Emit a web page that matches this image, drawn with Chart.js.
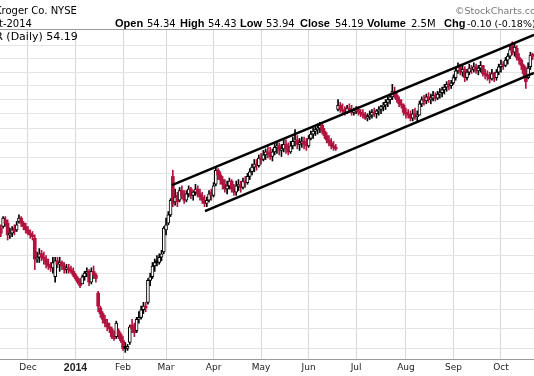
<!DOCTYPE html>
<html>
<head>
<meta charset="utf-8">
<script src="https://cdn.jsdelivr.net/npm/chart.js@4.4.1/dist/chart.umd.min.js"></script>
<style>
  html, body { margin: 0; padding: 0; background: #fff; }
  #wrap { position: relative; width: 534px; height: 376px; overflow: hidden; }
  #chart { position: absolute; left: 0; top: 0; }
  .t { position: absolute; white-space: nowrap; line-height: 1; font-family: "DejaVu Sans", sans-serif; font-size: 10px; color: #000; }
  .b { font-family: "Liberation Sans", Arial, sans-serif; font-weight: bold; font-size: 11px; }
  .logo { color: #777; font-size: 9.5px; }
</style>
</head>
<body>
<div id="wrap">
  <canvas id="chart" width="534" height="376"></canvas>
  <div class="t" style="left:-5px;top:5.5px">Kroger Co. NYSE</div>
  <div class="t" style="left:-31px;top:18.5px">20-Oct-2014</div>
  <div class="t" style="left:-12px;top:31px;font-size:11px">KR (Daily) 54.19</div>
  <div class="t logo" style="left:455px;top:6px">&copy;StockCharts.com</div>
  <div class="t b" style="left:115px;top:18px">Open</div>
  <div class="t" style="left:147px;top:18.5px">54.34</div>
  <div class="t b" style="left:180px;top:18px">High</div>
  <div class="t" style="left:208px;top:18.5px">54.43</div>
  <div class="t b" style="left:240px;top:18px">Low</div>
  <div class="t" style="left:266px;top:18.5px">53.94</div>
  <div class="t b" style="left:300px;top:18px">Close</div>
  <div class="t" style="left:335px;top:18.5px">54.19</div>
  <div class="t b" style="left:367px;top:18px">Volume</div>
  <div class="t" style="left:411px;top:18.5px">2.5M</div>
  <div class="t b" style="left:444px;top:18px">Chg</div>
  <div class="t" style="left:467px;top:19px;font-size:9.5px">-0.10 (-0.18%)</div>
</div>
<script>
// daily bars, 14-Nov-2013 .. 21-Oct-2014 (one entry per trading day)
const highs = [
  42.8, 43.3, 43.3, 43.1, 42.6, 42.7, 42.8, 43.0, 43.4, 43.3, 43.0, 42.9,
  42.7, 42.5, 42.4, 42.2, 41.2, 41.4, 41.3, 41.2, 41.0, 40.8, 40.6, 40.9, 40.9, 40.9,
  40.9, 40.7, 40.6, 40.5, 40.5, 40.4, 40.3,
  40.0, 39.8, 39.7, 39.9, 40.1, 40.3, 40.2, 40.3, 40.4, 40.0, 39.0, 38.2, 37.9, 37.7,
  37.5, 37.3, 37.1, 36.9, 37.4, 37.0, 36.8,
  36.6, 36.3, 36.2, 37.2, 37.5, 37.3, 37.6, 37.9, 38.2, 38.4, 38.4, 39.7, 40.0, 40.6,
  40.8, 41.0, 41.1, 41.3, 42.7,
  43.2, 43.6, 44.4, 46.2, 45.0, 44.8, 45.1, 45.2, 44.9, 44.9, 45.2, 45.1, 44.9, 45.3,
  45.2, 45.0, 44.8, 44.6, 44.5, 44.9, 45.0,
  45.4, 46.4, 46.3, 46.1, 45.8, 45.6, 45.5, 45.7, 45.6, 45.3, 45.5, 45.6, 45.5, 45.7,
  45.8, 46.0, 46.3, 46.6, 46.9, 46.9, 47.2,
  47.3, 47.5, 47.6, 47.8, 47.7, 47.6, 48.0, 48.1, 48.0, 47.9, 48.2, 48.2, 48.0, 48.1,
  48.4, 48.9, 48.5, 48.3, 48.4, 48.4, 48.3,
  48.5, 48.8, 49.0, 49.1, 49.3, 49.4, 49.3, 49.0, 48.7, 48.5, 48.3, 48.1, 47.9, 51.0,
  50.8, 50.7, 50.5, 50.6, 50.7, 50.6, 50.4,
  50.5, 50.5, 50.3, 50.3, 50.1, 50.0, 50.2, 50.3, 50.4, 50.3, 50.5, 50.6, 50.8, 51.0,
  51.2, 51.4, 52.1, 51.9, 51.5, 51.2, 51.0, 50.7,
  50.4, 50.3, 50.2, 50.3, 50.4, 50.2, 50.9, 51.2, 51.3, 51.4, 51.5, 51.4, 51.6, 51.5,
  51.6, 51.8, 51.9, 52.1, 52.3, 52.4, 52.4,
  52.8, 53.3, 53.7, 53.6, 53.5, 53.4, 53.2, 53.6, 53.5, 53.7, 53.6, 53.5, 53.8, 53.5,
  53.2, 53.1, 53.0, 53.2, 53.0, 53.2, 53.6,
  53.9, 53.8, 54.1, 54.4, 55.0, 55.3, 55.2, 55.0, 54.4, 54.0, 53.6, 53.4, 53.7, 54.5,
  54.43
];
const lows = [
  42.1, 42.6, 42.7, 41.9, 42.0, 42.1, 42.2, 42.4, 42.9, 42.7, 42.5, 42.3,
  42.2, 42.0, 41.9, 40.2, 40.6, 40.6, 40.7, 40.5, 40.3, 40.2, 40.1, 40.0, 39.5, 40.3,
  40.1, 40.2, 40.0, 40.0, 40.0, 40.0, 39.8,
  39.6, 39.4, 39.2, 39.4, 39.6, 39.8, 39.3, 39.4, 39.7, 39.5, 37.9, 37.6, 37.3, 37.1,
  36.9, 36.8, 36.5, 36.4, 36.5, 36.5, 36.3,
  35.9, 35.8, 35.9, 36.2, 36.8, 36.6, 36.8, 37.3, 37.5, 37.8, 37.9, 38.3, 39.3, 39.7,
  40.1, 40.4, 40.5, 40.7, 41.1,
  42.2, 42.8, 43.3, 43.9, 44.0, 43.9, 44.2, 44.4, 44.1, 44.2, 44.5, 44.4, 44.3, 44.6,
  44.5, 44.3, 44.1, 43.9, 43.9, 44.2, 44.3,
  44.5, 45.2, 45.6, 45.3, 45.0, 44.8, 44.7, 45.0, 44.8, 44.6, 44.6, 44.9, 44.8, 45.0,
  45.1, 45.3, 45.6, 45.9, 46.1, 46.2, 46.4,
  46.6, 46.8, 46.9, 47.0, 46.9, 46.8, 47.2, 47.3, 47.2, 47.1, 47.4, 47.3, 47.2, 47.3,
  47.6, 47.8, 47.6, 47.5, 47.7, 47.6, 47.5,
  47.7, 48.2, 48.3, 48.5, 48.6, 48.7, 48.6, 48.3, 48.0, 47.8, 47.6, 47.5, 47.5, 50.2,
  50.1, 50.0, 49.9, 50.0, 50.1, 49.9, 49.9,
  50.0, 49.9, 49.8, 49.7, 49.6, 49.5, 49.6, 49.7, 49.8, 49.7, 49.9, 50.0, 50.2, 50.3,
  50.5, 50.7, 51.0, 51.1, 50.8, 50.5, 50.4, 49.9,
  49.7, 49.7, 49.5, 49.5, 49.6, 49.5, 49.9, 50.5, 50.6, 50.7, 50.8, 50.7, 50.9, 50.9,
  51.0, 51.1, 51.2, 51.4, 51.6, 51.7, 51.8,
  52.1, 52.4, 52.9, 52.8, 52.7, 52.3, 52.4, 52.8, 52.9, 53.0, 52.9, 52.8, 53.0, 52.7,
  52.5, 52.4, 52.2, 52.4, 52.3, 52.4, 52.8,
  53.0, 53.2, 53.4, 53.6, 54.0, 54.3, 54.2, 53.9, 53.6, 53.2, 52.6, 51.8, 52.5, 53.2,
  53.94
];
const opens = [
  42.6, 42.7, 43.1, 42.9, 42.2, 42.3, 42.6, 42.5, 43.0, 43.2, 42.9, 42.7,
  42.5, 42.3, 42.2, 42.0, 40.8, 40.9, 41.1, 40.9, 40.8, 40.5, 40.4, 40.3, 39.8, 40.7,
  40.5, 40.6, 40.4, 40.2, 40.3, 40.2, 40.1,
  39.9, 39.7, 39.5, 39.4, 39.8, 40.0, 40.1, 39.5, 40.1, 39.9, 38.9, 38.1, 37.8, 37.5,
  37.3, 37.1, 37.0, 36.6, 36.6, 36.9, 36.7,
  36.4, 36.1, 36.0, 36.3, 37.2, 37.0, 36.9, 37.5, 37.6, 38.0, 38.2, 38.4, 39.6, 39.8,
  40.4, 40.7, 40.6, 40.9, 41.2,
  42.5, 42.9, 43.4, 45.8, 44.2, 44.6, 44.3, 44.9, 44.6, 44.3, 44.7, 45.0, 44.6, 44.8,
  45.0, 44.7, 44.5, 44.3, 44.1, 44.3, 44.8,
  44.6, 45.3, 46.2, 45.9, 45.6, 45.3, 45.0, 45.2, 45.5, 45.0, 44.8, 45.2, 45.3, 45.1,
  45.5, 45.4, 45.8, 46.1, 46.4, 46.6, 46.5,
  47.0, 46.9, 47.2, 47.4, 47.3, 47.1, 47.4, 47.7, 47.8, 47.5, 47.6, 47.9, 47.6, 47.4,
  47.8, 48.1, 48.2, 47.9, 48.0, 48.1, 47.9,
  47.8, 48.3, 48.6, 48.8, 48.9, 49.0, 49.2, 48.8, 48.5, 48.2, 48.0, 47.8, 47.7, 50.3,
  50.6, 50.3, 50.2, 50.1, 50.4, 50.3, 50.1,
  50.2, 50.3, 50.1, 50.0, 49.9, 49.7, 49.8, 49.9, 50.1, 50.0, 50.2, 50.3, 50.5, 50.6,
  50.8, 51.0, 51.2, 51.6, 51.3, 51.0, 50.7, 50.6,
  50.1, 50.0, 49.9, 49.7, 50.0, 49.8, 49.9, 50.7, 51.0, 50.9, 51.2, 51.0, 51.1, 51.3,
  51.1, 51.4, 51.5, 51.7, 51.9, 52.1, 52.0,
  52.2, 52.6, 53.1, 53.4, 53.0, 53.2, 52.6, 53.0, 53.3, 53.2, 53.4, 53.1, 53.3, 53.5,
  52.9, 52.8, 52.7, 52.5, 52.9, 52.6, 53.0,
  53.4, 53.6, 53.5, 53.9, 54.2, 55.0, 54.5, 54.8, 54.1, 53.9, 53.5, 52.9, 52.6, 53.4,
  54.34
];
const closes = [
  42.3, 43.2, 42.9, 42.2, 42.3, 42.5, 42.4, 42.8, 43.2, 42.9, 42.7, 42.5,
  42.3, 42.2, 42.1, 40.8, 40.9, 41.1, 40.9, 40.8, 40.5, 40.4, 40.3, 40.6, 40.7, 40.5,
  40.6, 40.4, 40.2, 40.3, 40.2, 40.1, 39.9,
  39.7, 39.5, 39.3, 39.8, 40.0, 40.1, 39.5, 40.1, 39.9, 39.7, 38.2, 37.8, 37.5, 37.3,
  37.1, 37.0, 36.6, 36.5, 37.3, 36.7, 36.4,
  36.0, 36.0, 36.1, 37.1, 37.0, 36.8, 37.5, 37.6, 38.0, 38.2, 38.1, 39.6, 39.8, 40.4,
  40.6, 40.6, 40.9, 41.1, 42.6,
  42.8, 43.4, 44.3, 44.1, 44.5, 44.2, 44.9, 44.6, 44.3, 44.7, 45.0, 44.6, 44.8, 45.0,
  44.7, 44.5, 44.3, 44.1, 44.3, 44.7, 44.6,
  45.2, 46.2, 45.9, 45.6, 45.3, 45.0, 45.2, 45.5, 45.0, 44.8, 45.2, 45.3, 45.1, 45.5,
  45.4, 45.8, 46.1, 46.4, 46.6, 46.5, 47.0,
  46.9, 47.2, 47.4, 47.3, 47.1, 47.4, 47.7, 47.8, 47.5, 47.6, 47.9, 47.6, 47.4, 47.8,
  48.1, 48.2, 47.9, 48.0, 48.1, 47.9, 47.8,
  48.3, 48.6, 48.8, 48.9, 49.0, 49.2, 48.8, 48.5, 48.2, 48.0, 47.8, 47.7, 47.6, 50.6,
  50.3, 50.2, 50.1, 50.4, 50.3, 50.1, 50.2,
  50.3, 50.1, 50.0, 49.9, 49.7, 49.8, 49.9, 50.1, 50.0, 50.2, 50.3, 50.5, 50.6, 50.8,
  51.0, 51.2, 51.6, 51.3, 51.0, 50.7, 50.6, 50.1,
  50.0, 49.9, 49.7, 50.0, 49.8, 49.9, 50.7, 51.0, 50.9, 51.2, 51.0, 51.1, 51.3, 51.1,
  51.4, 51.5, 51.7, 51.9, 52.1, 52.0, 52.2,
  52.6, 53.1, 53.4, 53.0, 53.2, 52.6, 53.0, 53.3, 53.2, 53.4, 53.1, 53.3, 53.5, 52.9,
  52.8, 52.7, 52.5, 52.9, 52.6, 53.0, 53.4,
  53.6, 53.5, 53.9, 54.2, 54.7, 54.5, 54.9, 54.1, 53.9, 53.5, 52.9, 52.3, 53.3, 54.29,
  54.19
];

// first trading day of each month (bar number) and its label
const monthTicks = [12, 33, 54, 73, 94, 115, 136, 157, 179, 200, 221];
const monthLabels = ["Dec", "2014", "Feb", "Mar", "Apr", "May", "Jun", "Jul", "Aug", "Sep", "Oct"];

// price grid (log scale)
const priceGrid = [36, 37, 38, 39, 40, 41, 42, 43, 44, 45, 46, 47, 48, 49, 50, 51, 52, 53, 54, 55];
const priceMin = 35.47;
const priceMax = 56.3;

// hand drawn trend channel (bar number, price)
const upperChannelDays = [75.6, 235.6];
const upperChannelPrices = [45.25, 55.83];
const lowerChannelDays = [90.2, 235.6];
const lowerChannelPrices = [43.63, 52.94];

const RED = "#b3123f";
const barColors = closes.map((c, i) => (c < (i ? closes[i - 1] : opens[i]) ? RED : "#000"));
const hollow = closes.map((c, i) => c >= opens[i]);

const ctx = document.getElementById("chart").getContext("2d");

new Chart(ctx, {
  type: "bar",
  data: {
    datasets: [
      {
        type: "line",
        data: upperChannelDays.map((d, i) => ({ x: d, y: upperChannelPrices[i] })),
        borderColor: "#000",
        borderWidth: 2.5,
        pointRadius: 0,
        order: 0,
      },
      {
        type: "line",
        data: lowerChannelDays.map((d, i) => ({ x: d, y: lowerChannelPrices[i] })),
        borderColor: "#000",
        borderWidth: 2.5,
        pointRadius: 0,
        order: 0,
      },
      {
        // candle bodies
        data: opens.map((o, i) => ({ x: i, y: [Math.min(o, closes[i]), Math.max(o, closes[i])] })),
        backgroundColor: (c) => (hollow[c.dataIndex] ? "#fff" : barColors[c.dataIndex]),
        borderColor: (c) => barColors[c.dataIndex],
        borderWidth: (c) => (hollow[c.dataIndex] ? 1 : 0),
        borderSkipped: false,
        barThickness: 3,
        grouped: false,
        order: 1,
      },
      {
        // high-low range
        data: lows.map((l, i) => ({ x: i, y: [l, highs[i]] })),
        backgroundColor: (c) => barColors[c.dataIndex],
        barThickness: 1,
        grouped: false,
        order: 2,
      },
    ],
  },
  options: {
    responsive: false,
    animation: false,
    layout: { padding: { top: 29, left: 0, right: 0, bottom: 0 } },
    plugins: { legend: { display: false }, tooltip: { enabled: false } },
    scales: {
      x: {
        type: "linear",
        min: -0.37,
        max: 235.6,
        offset: false,
        grid: { offset: false, color: "#d9d9d9", drawTicks: false },
        border: { color: "#9a9a9a" },
        ticks: {
          autoSkip: false,
          maxRotation: 0,
          padding: 3,
          color: "#222",
          font: (c) =>
            c.tick && c.tick.value === monthTicks[1]
              ? { family: "'Liberation Sans', Arial, sans-serif", size: 10.5, weight: "bold" }
              : { family: "'DejaVu Sans', sans-serif", size: 9 },
          callback: (v) => monthLabels[monthTicks.indexOf(v)],
        },
        afterBuildTicks: (s) => {
          s.ticks = monthTicks.map((v) => ({ value: v }));
        },
        afterFit: (s) => {
          s.height = 17;
        },
      },
      y: {
        type: "logarithmic",
        min: priceMin,
        max: priceMax,
        ticks: { display: false },
        grid: {
          drawTicks: false,
          color: (c) => (c.tick && c.tick.value === priceMax ? "#9a9a9a" : "#e4e4e4"),
        },
        border: { display: false },
        afterBuildTicks: (s) => {
          s.ticks = priceGrid.concat([priceMax]).map((v) => ({ value: v }));
        },
        afterFit: (s) => {
          s.width = 0;
        },
      },
    },
  },
});
</script>
</body>
</html>
